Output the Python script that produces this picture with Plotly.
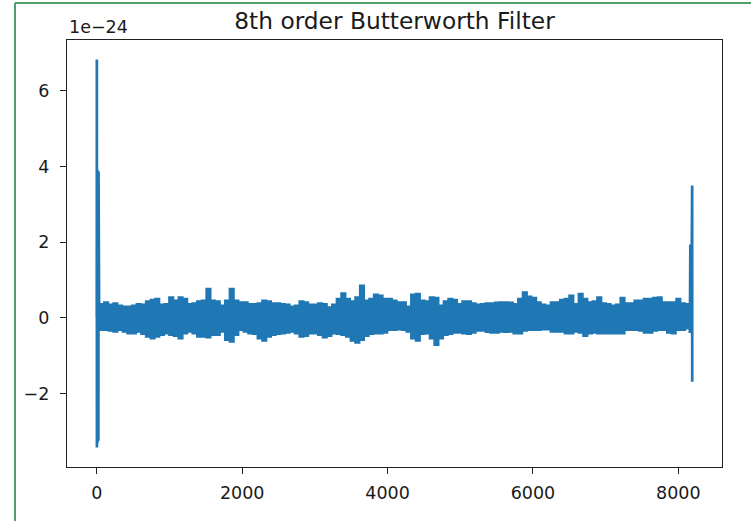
import plotly.graph_objects as go

# ---- data (signal values in units of 1e-24) ----
TITLE = "8th order Butterworth Filter"
OFFSET_LABEL = "1e\u221224"

# envelope of the dense noise band, read every 64 samples (0..8128) plus last sample 8191
env_step = 64
band_hi = [
    0.375, 0.375, 0.419, 0.358, 0.393, 0.331, 0.305, 0.305, 0.331, 0.375,
    0.358, 0.446, 0.481, 0.508, 0.358, 0.375, 0.552, 0.464, 0.552, 0.508,
    0.375, 0.393, 0.446, 0.464, 0.773, 0.464, 0.446, 0.331, 0.464, 0.773,
    0.464, 0.419, 0.419, 0.375, 0.375, 0.393, 0.464, 0.446, 0.393, 0.393,
    0.375, 0.358, 0.305, 0.331, 0.446, 0.419, 0.358, 0.358, 0.393, 0.375,
    0.287, 0.358, 0.508, 0.658, 0.508, 0.446, 0.552, 0.861, 0.464, 0.508,
    0.623, 0.596, 0.508, 0.508, 0.464, 0.419, 0.419, 0.305, 0.623, 0.640,
    0.464, 0.446, 0.552, 0.534, 0.331, 0.446, 0.508, 0.481, 0.375, 0.446,
    0.446, 0.393, 0.358, 0.375, 0.393, 0.393, 0.411, 0.419, 0.419, 0.411,
    0.375, 0.508, 0.684, 0.570, 0.534, 0.419, 0.358, 0.331, 0.419, 0.419,
    0.481, 0.508, 0.596, 0.375, 0.640, 0.508, 0.419, 0.446, 0.552, 0.393,
    0.375, 0.331, 0.358, 0.534, 0.393, 0.393, 0.464, 0.464, 0.508, 0.508,
    0.534, 0.552, 0.419, 0.419, 0.419, 0.508, 0.393, 0.375, 0.380,
]
band_lo = [
    -0.331, -0.331, -0.331, -0.349, -0.375, -0.331, -0.375, -0.419, -0.419, -0.375,
    -0.437, -0.508, -0.552, -0.508, -0.464, -0.419, -0.464, -0.490, -0.552, -0.419,
    -0.375, -0.419, -0.508, -0.508, -0.525, -0.464, -0.464, -0.375, -0.596, -0.640,
    -0.464, -0.331, -0.375, -0.419, -0.437, -0.552, -0.614, -0.508, -0.464, -0.437,
    -0.419, -0.402, -0.375, -0.419, -0.508, -0.490, -0.419, -0.419, -0.464, -0.525,
    -0.490, -0.419, -0.437, -0.464, -0.508, -0.614, -0.667, -0.596, -0.490, -0.437,
    -0.419, -0.419, -0.402, -0.331, -0.331, -0.313, -0.331, -0.375, -0.552, -0.614,
    -0.437, -0.419, -0.552, -0.728, -0.552, -0.464, -0.437, -0.402, -0.402, -0.419,
    -0.437, -0.402, -0.349, -0.349, -0.384, -0.402, -0.402, -0.375, -0.384, -0.375,
    -0.419, -0.419, -0.349, -0.331, -0.331, -0.331, -0.313, -0.313, -0.375, -0.375,
    -0.375, -0.419, -0.419, -0.375, -0.402, -0.490, -0.419, -0.402, -0.419, -0.419,
    -0.419, -0.419, -0.419, -0.419, -0.331, -0.331, -0.331, -0.349, -0.402, -0.402,
    -0.349, -0.331, -0.331, -0.402, -0.419, -0.331, -0.331, -0.287, -0.300,
]
N_SAMPLES = 8192
band_x = [min(k * env_step, N_SAMPLES - 1) for k in range(len(band_hi))]

# start transient (samples 0..32): one large excursion, then dense ringing
start_x = [0, 1, 2, 4, 6, 8, 10, 12, 14, 16, 18, 20, 22, 24, 26, 28, 30, 32]
start_y = [0.0, 6.83, -3.43, 3.90, -3.30, 3.90, -3.30, 3.88, -3.28, 3.88, -3.28,
           3.85, -3.25, 3.85, -3.25, 3.80, -3.20, 0.30]

# end transient (samples 8155..8191)
end_x = [8155, 8157, 8159, 8161, 8163, 8165, 8167, 8169, 8171, 8173, 8175,
         8177, 8179, 8181, 8183, 8185, 8187, 8189, 8190, 8191]
end_y = [0.30, 1.94, -0.40, 1.94, -0.40, 1.94, -0.40, 1.94, -0.40, 1.94, -0.40,
         1.94, -0.40, 1.94, -0.40, 1.94, -0.40, 1.94, 3.50, -1.69]

LINE_COLOR = "#1f77b4"

fig = go.Figure()
fig.add_trace(go.Scatter(x=band_x, y=band_lo, mode="lines",
                         line=dict(color=LINE_COLOR, width=1.5, shape="hvh"), hoverinfo="skip"))
fig.add_trace(go.Scatter(x=band_x, y=band_hi, mode="lines", fill="tonexty",
                         fillcolor=LINE_COLOR,
                         line=dict(color=LINE_COLOR, width=1.5, shape="hvh"), hoverinfo="skip"))
fig.add_trace(go.Scatter(x=start_x, y=start_y, mode="lines",
                         line=dict(color=LINE_COLOR, width=2.7), hoverinfo="skip"))
fig.add_trace(go.Scatter(x=end_x, y=end_y, mode="lines",
                         line=dict(color=LINE_COLOR, width=2.7), hoverinfo="skip"))

# matplotlib-like 5% margins
xmin, xmax = 0, N_SAMPLES - 1
all_y = band_hi + band_lo + start_y + end_y
ymin, ymax = min(all_y), max(all_y)
xpad = 0.05 * (xmax - xmin)
ypad = 0.05 * (ymax - ymin)

ML, MR, MT, MB = 67, 29, 40, 54
W, H = 751, 521
pw, ph = W - ML - MR, H - MT - MB

def px_to_paper_x(px):
    return (px - ML) / pw

def py_to_paper_y(py):
    return (H - MB - py) / ph

font_family = "DejaVu Sans"
fig.update_layout(
    width=W, height=H,
    margin=dict(l=ML, r=MR, t=MT, b=MB),
    paper_bgcolor="white", plot_bgcolor="white",
    showlegend=False,
    font=dict(family=font_family, size=17.5, color="#1a1a1a"),
    title=dict(text=TITLE, x=(ML + pw / 2) / W, xanchor="center",
               y=1 - 21 / H, yanchor="middle", yref="container",
               font=dict(family=font_family, size=23.3, color="#1a1a1a")),
)
fig.update_xaxes(range=[xmin - xpad, xmax + xpad], tickvals=[0, 2000, 4000, 6000, 8000],
                 showgrid=False, zeroline=False, showline=True, mirror=True,
                 linecolor="#222", linewidth=1.3, ticks="outside", ticklen=6,
                 tickwidth=1.3, tickcolor="#222", ticklabelstandoff=4)
fig.update_yaxes(range=[ymin - ypad, ymax + ypad], tickvals=[-2, 0, 2, 4, 6],
                 showgrid=False, zeroline=False, showline=True, mirror=True,
                 linecolor="#222", linewidth=1.3, ticks="outside", ticklen=6,
                 tickwidth=1.3, tickcolor="#222", ticklabelstandoff=7)

fig.add_annotation(text=OFFSET_LABEL, xref="paper", yref="paper", x=0, y=1,
                   xanchor="left", yanchor="bottom", showarrow=False, yshift=1,
                   font=dict(family=font_family, size=17.5, color="#1a1a1a"))

# green frame of the screenshot (left and top edges)
green = "#4fa06f"
fig.add_shape(type="line", xref="paper", yref="paper",
              x0=px_to_paper_x(15), x1=px_to_paper_x(15),
              y0=py_to_paper_y(3), y1=py_to_paper_y(H + 2),
              line=dict(color=green, width=2))
fig.add_shape(type="line", xref="paper", yref="paper",
              x0=px_to_paper_x(15), x1=px_to_paper_x(W + 2),
              y0=py_to_paper_y(3), y1=py_to_paper_y(3),
              line=dict(color=green, width=2))

fig.write_html("out.html")
